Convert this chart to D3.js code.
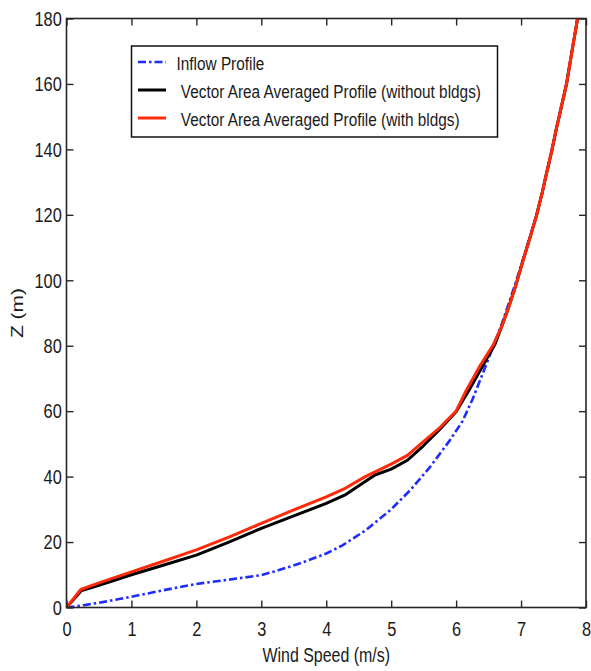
<!DOCTYPE html>
<html>
<head>
<meta charset="utf-8">
<script src="https://cdn.jsdelivr.net/npm/d3@7/dist/d3.min.js"></script>
<style>
  html, body { margin: 0; padding: 0; background: #fff; }
  svg { display: block; }
  text { font-family: "Liberation Sans", Arial, sans-serif; fill: #1a1a1a; }
</style>
</head>
<body>
<svg id="chart" width="591" height="671"></svg>
<script>
// Wind speed (m/s) and height (m) samples for each profile
const inflowSpeed = [0, 0.3, 0.6, 1.0, 1.5, 2.0, 2.5, 3.0, 3.2, 3.6, 4.0, 4.25, 4.6, 5.0, 5.3, 5.6, 5.9, 6.1, 6.25, 6.4, 6.57, 6.7, 6.82, 6.93, 7.03, 7.14, 7.24, 7.32, 7.39, 7.47, 7.54, 7.62, 7.7, 7.78, 7.87];
const inflowZ     = [0, 0.8, 1.8, 3.3, 5.3, 7.2, 8.5, 9.9, 11, 13.5, 16.5, 19, 23.5, 30, 36, 43, 51, 57, 63.5, 71, 79.7, 86.5, 93.5, 100, 106.5, 113.5, 120, 126.3, 132.5, 139.3, 145.8, 152.8, 160, 169.5, 180];

const noBldgSpeed = [0, 0.23, 0.5, 1.0, 1.5, 2.0, 2.5, 3.0, 3.5, 4.0, 4.3, 4.6, 4.75, 5.0, 5.25, 5.5, 5.75, 6.0, 6.2, 6.4, 6.6, 6.7, 6.8, 6.92, 7.03, 7.14, 7.24, 7.32, 7.39, 7.47, 7.54, 7.62, 7.7, 7.78, 7.87];
const noBldgZ     = [0, 5.2, 6.8, 10, 13, 16, 20, 24.2, 28, 31.8, 34.5, 38.5, 40.5, 42.3, 45, 49.5, 54.5, 59.8, 66.5, 73.5, 80.5, 85.8, 91.2, 98.5, 106, 113.2, 120, 126.3, 132.5, 139.3, 146, 153, 160, 169.5, 180];

const bldgSpeed = [0, 0.22, 0.5, 1.0, 1.5, 2.0, 2.5, 3.0, 3.5, 4.0, 4.3, 4.6, 5.0, 5.25, 5.5, 5.75, 6.0, 6.16, 6.36, 6.57, 6.7, 6.8, 6.92, 7.03, 7.14, 7.24, 7.32, 7.39, 7.47, 7.54, 7.62, 7.7, 7.78, 7.87];
const bldgZ     = [0, 5.5, 7.5, 10.9, 14.2, 17.6, 21.5, 25.7, 29.8, 33.8, 36.5, 40, 43.8, 46.5, 50.8, 55, 60, 66.5, 73.6, 80.2, 85.8, 91.2, 98.5, 106, 113.2, 120, 126.3, 132.5, 139.3, 146, 153, 160, 169.5, 180];

const xTicks = [0, 1, 2, 3, 4, 5, 6, 7, 8];
const yTicks = [0, 20, 40, 60, 80, 100, 120, 140, 160, 180];

const legendLabels = [
  "Inflow Profile",
  " Vector Area Averaged Profile (without bldgs)",
  " Vector Area Averaged Profile (with bldgs)"
];

const svg = d3.select("#chart");
const plotLeft = 66.5, plotTop = 18.5, plotRight = 586, plotBottom = 607.5;

const x = d3.scaleLinear().domain([0, 8]).range([plotLeft, plotRight]);
const y = d3.scaleLinear().domain([0, 180]).range([plotBottom, plotTop]);

svg.append("defs").append("clipPath").attr("id", "plotClip")
  .append("rect").attr("x", plotLeft).attr("y", plotTop - 2)
  .attr("width", plotRight - plotLeft).attr("height", plotBottom - plotTop + 2);

// Profiles
const series = [
  { u: inflowSpeed, z: inflowZ, color: "#1f2bff", dash: "8,3,2.5,3", width: 2.6 },
  { u: noBldgSpeed, z: noBldgZ, color: "#000000", dash: null, width: 3 },
  { u: bldgSpeed, z: bldgZ, color: "#ff2a0a", dash: null, width: 3 }
];

const line = d3.line().x(d => x(d[0])).y(d => y(d[1]));
const gLines = svg.append("g").attr("clip-path", "url(#plotClip)");
series.forEach(s => {
  gLines.append("path")
    .datum(d3.zip(s.u, s.z))
    .attr("d", line)
    .attr("fill", "none")
    .attr("stroke", s.color)
    .attr("stroke-width", s.width)
    .attr("stroke-linejoin", "round")
    .attr("stroke-dasharray", s.dash);
});

// Axes: ticks point inward on all four sides
const axisColor = "#262626";
function styleAxis(g) {
  g.select(".domain").remove();
  g.selectAll(".tick line").attr("stroke", axisColor).attr("stroke-width", 1.4);
}

const gx = svg.append("g").attr("transform", `translate(0,${plotBottom})`)
  .call(d3.axisBottom(x).tickValues(xTicks).tickSize(-7).tickPadding(14).tickFormat(d3.format("d")));
styleAxis(gx);
gx.selectAll(".tick text")
  .attr("font-size", 21).attr("fill", "#1a1a1a").attr("font-family", null)
  .attr("transform", "scale(0.78,1)");

const gy = svg.append("g").attr("transform", `translate(${plotLeft},0)`)
  .call(d3.axisLeft(y).tickValues(yTicks).tickSize(-7).tickPadding(6).tickFormat(d3.format("d")));
styleAxis(gy);
gy.selectAll(".tick text")
  .attr("font-size", 21).attr("fill", "#1a1a1a").attr("font-family", null)
  .attr("transform", "scale(0.78,1)");

const gt = svg.append("g").attr("transform", `translate(0,${plotTop})`)
  .call(d3.axisTop(x).tickValues(xTicks).tickSize(-7).tickFormat(""));
styleAxis(gt);
const gr = svg.append("g").attr("transform", `translate(${plotRight},0)`)
  .call(d3.axisRight(y).tickValues(yTicks).tickSize(-7).tickFormat(""));
styleAxis(gr);

svg.append("rect")
  .attr("x", plotLeft).attr("y", plotTop)
  .attr("width", plotRight - plotLeft).attr("height", plotBottom - plotTop)
  .attr("fill", "none").attr("stroke", axisColor).attr("stroke-width", 1.6);

// Axis titles
svg.append("text")
  .attr("transform", `translate(${(plotLeft + plotRight) / 2},662) scale(0.76,1)`)
  .attr("text-anchor", "middle").attr("font-size", 21)
  .text("Wind Speed (m/s)");

svg.append("text")
  .attr("transform", `translate(23,${(plotTop + plotBottom) / 2}) rotate(-90) scale(1,0.78)`)
  .attr("text-anchor", "middle").attr("font-size", 21)
  .text("Z (m)");

// Legend
const lg = svg.append("g");
lg.append("rect")
  .attr("x", 131.5).attr("y", 46).attr("width", 366).attr("height", 91)
  .attr("fill", "#fff").attr("stroke", "#111").attr("stroke-width", 1.5);
legendLabels.forEach((label, i) => {
  const s = series[i];
  const ly = 62 + i * 28;
  lg.append("line")
    .attr("x1", 138).attr("x2", 166).attr("y1", ly).attr("y2", ly)
    .attr("stroke", s.color).attr("stroke-width", s.width)
    .attr("stroke-dasharray", s.dash);
  lg.append("text")
    .attr("transform", `translate(176.5,${ly + 8}) scale(0.83,1)`)
    .attr("font-size", 18.5)
    .attr("xml:space", "preserve")
    .style("white-space", "pre")
    .text(label);
});
</script>
</body>
</html>
